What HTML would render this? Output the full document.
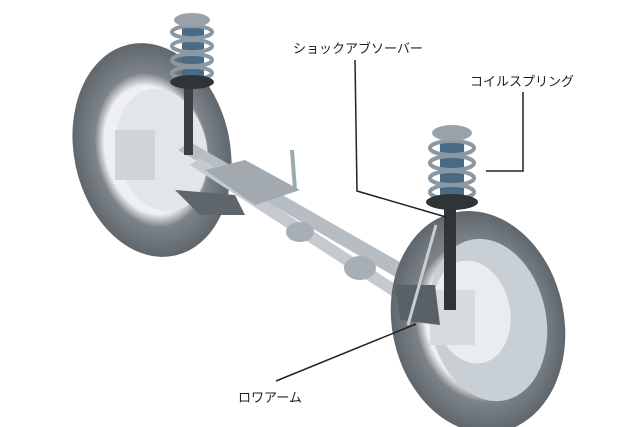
<!DOCTYPE html>
<html><head><meta charset="utf-8"><style>
html,body{margin:0;padding:0;background:#fff;width:640px;height:427px;overflow:hidden;}
.t{position:absolute;font-family:"Liberation Sans","Noto Sans CJK JP",sans-serif;font-size:13px;color:#222;white-space:nowrap;}
</style></head><body>
<div style="position:relative;width:640px;height:427px;overflow:hidden;background:#fff">
<svg width="640" height="427" style="position:absolute;left:0;top:0">
<defs>
<radialGradient id="tire" cx="50%" cy="50%" r="50%">
<stop offset="0.6" stop-color="#eef0f2"/><stop offset="0.72" stop-color="#7d8489"/><stop offset="1" stop-color="#60676c"/></radialGradient>
</defs>
<!-- left wheel -->
<ellipse cx="152" cy="150" rx="78" ry="108" transform="rotate(-12 152 150)" fill="url(#tire)"/>
<ellipse cx="162" cy="150" rx="45" ry="62" transform="rotate(-12 162 150)" fill="#e3e6e8"/>
<rect x="115" y="130" width="40" height="50" fill="#cfd4d7"/>
<!-- axles -->
<polygon points="178,150 190,142 440,285 428,296" fill="#b7bec3"/>
<polygon points="190,165 200,158 420,300 410,308" fill="#c4cacf"/>
<polygon points="205,170 245,160 300,190 255,205" fill="#a3aaaf"/>
<polygon points="175,190 235,195 245,215 200,215" fill="#5f666b"/>
<ellipse cx="300" cy="232" rx="14" ry="10" fill="#a8afb4"/>
<ellipse cx="360" cy="268" rx="16" ry="12" fill="#a8afb4"/>
<line x1="292" y1="150" x2="295" y2="190" stroke="#9aa" stroke-width="4"/>
<!-- left strut -->
<rect x="184" y="85" width="9" height="70" fill="#3a3f43"/>
<rect x="182" y="22" width="22" height="55" fill="#4a6a84"/>
<g fill="none" stroke="#8a98a4" stroke-width="4">
<ellipse cx="192" cy="32" rx="20" ry="6"/><ellipse cx="192" cy="46" rx="20" ry="6"/><ellipse cx="192" cy="60" rx="20" ry="6"/><ellipse cx="192" cy="73" rx="20" ry="6"/></g>
<ellipse cx="192" cy="20" rx="18" ry="7" fill="#9aa2a8"/>
<ellipse cx="192" cy="82" rx="22" ry="7" fill="#2f3437"/>
<!-- right wheel -->
<ellipse cx="478" cy="322" rx="86" ry="112" transform="rotate(-12 478 322)" fill="url(#tire)"/>
<ellipse cx="488" cy="320" rx="58" ry="82" transform="rotate(-12 488 320)" fill="#c8d0d6"/>
<ellipse cx="472" cy="312" rx="38" ry="52" transform="rotate(-12 472 312)" fill="#eaedef"/>
<rect x="430" y="290" width="45" height="55" fill="#d6dbde"/>
<polygon points="395,285 435,285 440,325 400,320" fill="#5a6166"/>
<!-- right strut -->
<rect x="444" y="205" width="12" height="105" fill="#2f3437"/>
<rect x="440" y="140" width="24" height="60" fill="#4a6a84"/>
<g fill="none" stroke="#8a98a4" stroke-width="4">
<ellipse cx="452" cy="148" rx="22" ry="7"/><ellipse cx="452" cy="163" rx="22" ry="7"/><ellipse cx="452" cy="178" rx="22" ry="7"/><ellipse cx="452" cy="192" rx="22" ry="7"/></g>
<ellipse cx="452" cy="133" rx="20" ry="8" fill="#9aa2a8"/>
<ellipse cx="452" cy="202" rx="26" ry="8" fill="#2f3437"/>
<line x1="436" y1="225" x2="408" y2="325" stroke="#c9ced2" stroke-width="3"/>
<!-- leader lines -->
<polyline points="355,60 357,191 446,217" fill="none" stroke="#222" stroke-width="1.5"/>
<polyline points="523,92 523,171 486,171" fill="none" stroke="#222" stroke-width="1.5"/>
<line x1="276" y1="381" x2="416" y2="324" stroke="#222" stroke-width="1.5"/>
</svg>
<div class="t" style="left:293px;top:38px">ショックアブソーバー</div>
<div class="t" style="left:470px;top:71px">コイルスプリング</div>
<div class="t" style="left:238px;top:387px">ロワアーム</div>
</div>
</body></html>
